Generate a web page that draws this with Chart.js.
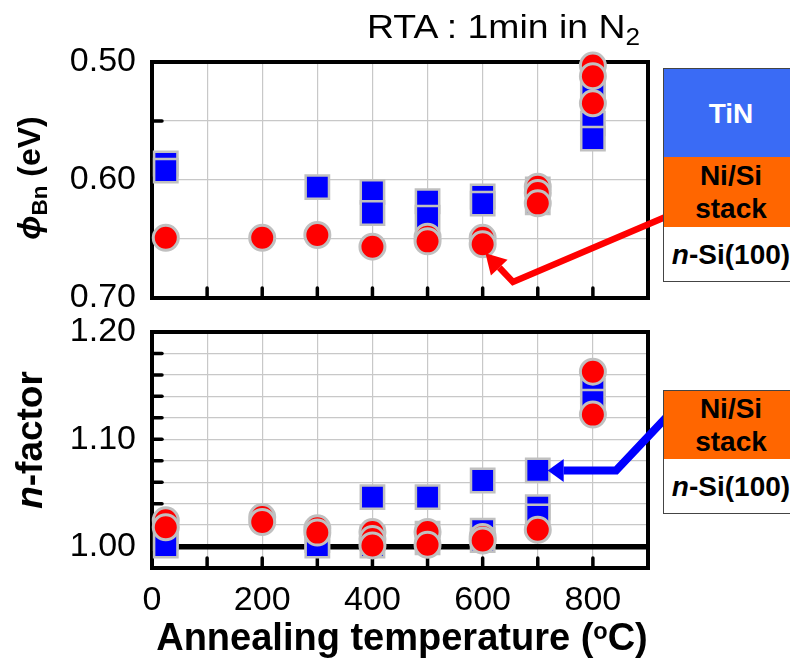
<!DOCTYPE html>
<html>
<head>
<meta charset="utf-8">
<script src="https://cdn.jsdelivr.net/npm/chart.js@4.4.1/dist/chart.umd.min.js"></script>
<style>
  body { margin: 0; background: #fff; }
  #wrap { position: relative; width: 790px; height: 662px; overflow: hidden;
          font-family: "Liberation Sans", Arial, sans-serif; color: #000; }
  canvas { position: absolute; left: 0; top: 0; }
  .txt { position: absolute; white-space: nowrap; line-height: 1; }
  .box { position: absolute; left: 663px; width: 136px; border: 1px solid #444; box-sizing: border-box;
         font-weight: bold; font-size: 28px; text-align: center; display: flex;
         flex-direction: column; justify-content: center; line-height: 33px; }
</style>
</head>
<body>
<div id="wrap">
  <canvas id="top" width="790" height="662"></canvas>
  <canvas id="bot" width="790" height="662"></canvas>

  <div class="txt" style="left:367px; top:9px; font-size:34px; transform:scaleX(1.1); transform-origin:left top;">RTA : 1min in N<sub style="font-size:0.7em; vertical-align:-0.3em;">2</sub></div>

  <div class="txt" style="left:32px; top:178px; font-size:32px; font-weight:bold; transform:translate(-50%,-50%) rotate(-90deg);">
    <i>ϕ</i><sub style="font-size:0.7em; vertical-align:-0.3em;">Bn</sub> (eV)</div>
  <div class="txt" style="left:29px; top:440px; font-size:37px; font-weight:bold; transform:translate(-50%,-50%) rotate(-90deg);">
    <i>n</i>-factor</div>
  <div class="txt" style="left:402px; top:637px; font-size:38px; font-weight:bold; transform:translate(-50%,-50%);">
    Annealing temperature (<sup style="font-size:0.62em; vertical-align:0.45em;">o</sup>C)</div>

  <!-- layer stack sketches -->
  <div class="box" style="top:68px; height:90px; background:#3a6bf5; color:#fff;">TiN</div>
  <div class="box" style="top:157px; height:71px; background:#ff6600; border-top:none;">Ni/Si<br>stack</div>
  <div class="box" style="top:227px; height:55px; background:#fff; border-top:none;"><span><i>n</i>-Si(100)</span></div>

  <div class="box" style="top:390px; height:70px; background:#ff6600;">Ni/Si<br>stack</div>
  <div class="box" style="top:459px; height:55px; background:#fff; border-top:none;"><span><i>n</i>-Si(100)</span></div>
</div>

<script>
// annealing temperature (°C) and barrier height (eV), TiN reference = squares, Ni/Si stack = circles
const phiTiN_T = [25, 25, 300, 400, 400, 500, 500, 600, 600, 700, 700, 800, 800, 800, 800];
const phiTiN_V = [0.586, 0.592, 0.606, 0.610, 0.628, 0.618, 0.632, 0.614, 0.620, 0.608, 0.619, 0.520, 0.528, 0.552, 0.565];
const phiNiSi_T = [25, 200, 300, 400, 500, 500, 600, 600, 700, 700, 700, 800, 800, 800];
const phiNiSi_V = [0.649, 0.649, 0.6466, 0.6565, 0.648, 0.652, 0.649, 0.6545, 0.6057, 0.611, 0.6198, 0.503, 0.512, 0.535];

// ideality factor
const nTiN_T = [25, 25, 300, 300, 400, 400, 400, 500, 500, 500, 600, 600, 600, 700, 700, 700, 800, 800];
const nTiN_V = [1.008, 1.001, 1.006, 1.001, 1.046, 1.008, 1.001, 1.046, 1.012, 1.004, 1.0616, 1.0147, 1.006, 1.071, 1.0366, 1.028, 1.145, 1.135];
const nNiSi_T = [25, 25, 200, 200, 300, 300, 400, 400, 400, 500, 500, 600, 600, 700, 800, 800];
const nNiSi_V = [1.0244, 1.018, 1.0275, 1.0229, 1.017, 1.013, 1.0135, 1.007, 1.001, 1.0135, 1.0016, 1.009, 1.0056, 1.0156, 1.163, 1.123];

// grid/tick positions and labelled values
const xGrid = [0, 100, 200, 300, 400, 500, 600, 700, 800, 900];
const xLabels = [0, 200, 400, 600, 800];
const phiGrid = [0.50, 0.55, 0.60, 0.65, 0.70];
const phiLabels = [0.5, 0.6, 0.7];
const nGrid = [0.98, 1.00, 1.02, 1.04, 1.06, 1.08, 1.10, 1.12, 1.14, 1.16, 1.18, 1.20];
const nLabels = [1.0, 1.1, 1.2];

// arrow paths in data units: tip first
const redArrow = [[605, 0.662], [655, 0.6864], [938, 0.630]];
const blueArrow = [[718, 1.071], [842, 1.071], [938, 1.123]];

function pts(xs, ys) { return xs.map((x, i) => ({ x: x, y: ys[i] })); }
function near(v, list) { return list.some(l => Math.abs(l - v) < 1e-6); }

const gridColor = "#c8c8c8";
const tickFont = { family: "'Liberation Sans', Arial, sans-serif", size: 34 };

const framePlugin = {
    id: "frame",
    beforeDatasetsDraw(chart) {
        const { ctx, chartArea: a, scales } = chart;
        ctx.save();
        ctx.strokeStyle = "#000";
        ctx.lineCap = "round";
        ctx.lineWidth = 3.5;
        scales.x.ticks.forEach(t => {
            if (t.value <= scales.x.min || t.value >= scales.x.max) return;
            const px = scales.x.getPixelForValue(t.value);
            ctx.beginPath(); ctx.moveTo(px, a.bottom); ctx.lineTo(px, a.bottom - 10); ctx.stroke();
        });
        scales.y.ticks.forEach(t => {
            if (t.value <= scales.y.min || t.value >= scales.y.max) return;
            const py = scales.y.getPixelForValue(t.value);
            ctx.beginPath(); ctx.moveTo(a.left, py); ctx.lineTo(a.left + 10, py); ctx.stroke();
        });
        ctx.lineCap = "butt";
        ctx.lineWidth = 4;
        ctx.strokeRect(a.left, a.top, a.right - a.left, a.bottom - a.top);
        ctx.restore();
    },
    afterDatasetsDraw(chart, args, opts) {
        if (!opts.arrow) return;
        const { ctx, scales } = chart;
        const p = opts.arrow.map(d => [scales.x.getPixelForValue(d[0]), scales.y.getPixelForValue(d[1])]);
        const dx = p[1][0] - p[0][0], dy = p[1][1] - p[0][1];
        const len = Math.hypot(dx, dy), ux = dx / len, uy = dy / len;
        const bx = p[0][0] + ux * opts.headLen, by = p[0][1] + uy * opts.headLen;
        ctx.save();
        ctx.strokeStyle = opts.color;
        ctx.fillStyle = opts.color;
        ctx.lineWidth = opts.width;
        ctx.lineJoin = "miter";
        ctx.beginPath();
        ctx.moveTo(bx, by);
        for (let i = 1; i < p.length; i++) ctx.lineTo(p[i][0], p[i][1]);
        ctx.stroke();
        ctx.beginPath();
        ctx.moveTo(p[0][0], p[0][1]);
        ctx.lineTo(bx - uy * opts.headHalf, by + ux * opts.headHalf);
        ctx.lineTo(bx + uy * opts.headHalf, by - ux * opts.headHalf);
        ctx.closePath();
        ctx.fill();
        ctx.restore();
    }
};

function circleSet(data) {
    return {
        data: data, pointStyle: "circle", pointRadius: 12.5,
        backgroundColor: "#ff0000", borderColor: "#c0c0c0", borderWidth: 3, clip: false
    };
}
function squareSet(data) {
    return {
        data: data, pointStyle: "rect", pointRadius: 16.5,
        backgroundColor: "#0000ff", borderColor: "#c0c0c0", borderWidth: 2.5, clip: false
    };
}

function fixedTicks(list) {
    return s => { s.ticks = list.map(v => ({ value: v })); };
}

function xScale(showLabels) {
    return {
        type: "linear", min: 0, max: 900,
        border: { display: false },
        grid: { color: gridColor, lineWidth: 1.2, drawTicks: false },
        afterBuildTicks: fixedTicks(xGrid),
        ticks: {
            display: showLabels, autoSkip: false, maxRotation: 0,
            color: "#000", font: tickFont, padding: 12,
            callback: v => near(v, xLabels) ? String(v) : ""
        },
        afterFit: s => { s.height = showLabels ? 94 : 0; }
    };
}

// top panel: barrier height
new Chart(document.getElementById("top"), {
    type: "scatter",
    data: { datasets: [circleSet(pts(phiNiSi_T, phiNiSi_V)), squareSet(pts(phiTiN_T, phiTiN_V))] },
    options: {
        responsive: false, animation: false, events: [],
        layout: { padding: { top: 62, right: 142, bottom: 364, left: 0 } },
        plugins: {
            legend: { display: false }, tooltip: { enabled: false },
            frame: { arrow: redArrow, color: "#ff0000", width: 6.5, headLen: 20, headHalf: 11.5 }
        },
        scales: {
            x: xScale(false),
            y: {
                type: "linear", min: 0.5, max: 0.7, reverse: true,
                border: { display: false },
                grid: { color: gridColor, lineWidth: 1.2, drawTicks: false },
                afterBuildTicks: fixedTicks(phiGrid),
                ticks: {
                    autoSkip: false, color: "#000", font: tickFont, padding: 16,
                    callback: v => near(v, phiLabels) ? v.toFixed(2) : ""
                },
                afterFit: s => { s.width = 152; }
            }
        }
    },
    plugins: [framePlugin]
});

// bottom panel: ideality factor
new Chart(document.getElementById("bot"), {
    type: "scatter",
    data: { datasets: [circleSet(pts(nNiSi_T, nNiSi_V)), squareSet(pts(nTiN_T, nTiN_V))] },
    options: {
        responsive: false, animation: false, events: [],
        layout: { padding: { top: 332, right: 142, bottom: 0, left: 0 } },
        plugins: {
            legend: { display: false }, tooltip: { enabled: false },
            frame: { arrow: blueArrow, color: "#0000ff", width: 8, headLen: 16, headHalf: 11.5 }
        },
        scales: {
            x: xScale(true),
            y: {
                type: "linear", min: 0.98, max: 1.2,
                border: { display: false },
                grid: {
                    drawTicks: false,
                    color: c => near(c.tick.value, [1.0]) ? "#000" : gridColor,
                    lineWidth: c => near(c.tick.value, [1.0]) ? 5.5 : 1.2
                },
                afterBuildTicks: fixedTicks(nGrid),
                ticks: {
                    autoSkip: false, color: "#000", font: tickFont, padding: 16,
                    callback: v => near(v, nLabels) ? v.toFixed(2) : ""
                },
                afterFit: s => { s.width = 152; }
            }
        }
    },
    plugins: [framePlugin]
});
</script>
</body>
</html>
